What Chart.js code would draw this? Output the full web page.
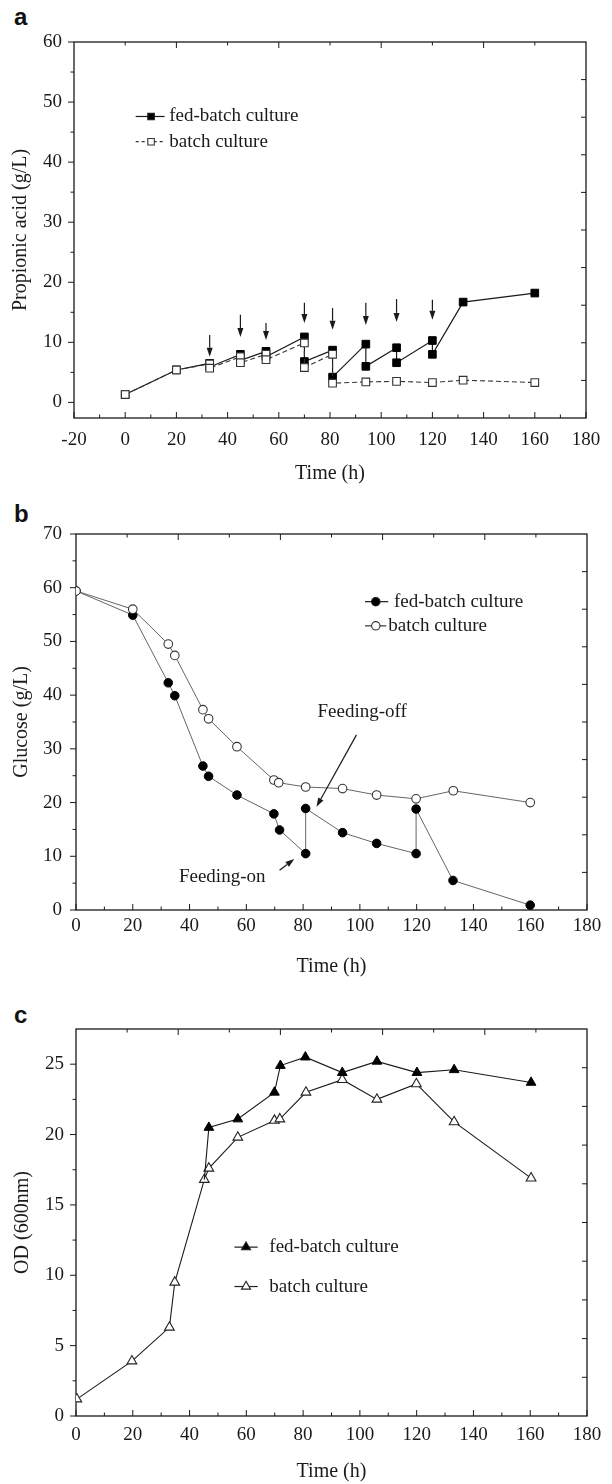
<!DOCTYPE html>
<html>
<head>
<meta charset="utf-8">
<script src="https://cdn.jsdelivr.net/npm/chart.js@4.4.1/dist/chart.umd.min.js"></script>
<style>
html,body{margin:0;padding:0;background:#fff;}
#wrap{position:relative;width:612px;height:1484px;overflow:hidden;background:#fff;}
canvas{position:absolute;left:0;}
.plbl{position:absolute;font-family:'Liberation Sans',Arial,sans-serif;font-weight:bold;font-size:24px;line-height:24px;color:#111;}
</style>
</head>
<body>
<div id="wrap">
  <div class="plbl" style="left:14px;top:5px">a</div>
  <div class="plbl" style="left:14px;top:502px">b</div>
  <div class="plbl" style="left:14px;top:1003px">c</div>
  <canvas id="cA" width="612" height="490" style="top:0px"></canvas>
  <canvas id="cB" width="612" height="490" style="top:490px"></canvas>
  <canvas id="cC" width="612" height="504" style="top:980px"></canvas>
</div>
<script>
// ---------------- DATA ----------------
// Panel a: propionic acid (g/L)
const timeA_fed   = [0, 20, 33, 33, 45, 45, 55, 55, 70, 70, 81, 81, 94, 94, 106, 106, 120, 120, 132, 160];
const propA_fed   = [1.3, 5.4, 6.5, 5.9, 8.0, 7.0, 8.5, 7.6, 10.9, 6.8, 8.7, 4.2, 9.7, 6.0, 9.1, 6.6, 10.3, 8.0, 16.7, 18.2];
const timeA_batch = [0, 20, 33, 33, 45, 45, 55, 55, 70, 70, 81, 81, 94, 106, 120, 132, 160];
const propA_batch = [1.3, 5.4, 6.4, 5.7, 7.6, 6.6, 8.0, 7.1, 9.9, 5.8, 8.0, 3.2, 3.4, 3.5, 3.3, 3.7, 3.3];
const feedTimesA  = [33, 45, 55, 70, 81, 94, 106, 120];
const arrowTailA  = [11.2, 14.6, 13.2, 16.6, 15.7, 16.6, 17.2, 17.1];
const arrowTipA   = [7.6, 10.9, 10.4, 13.2, 12.1, 12.9, 13.4, 13.75];
const xTicksA = [-20, 0, 20, 40, 60, 80, 100, 120, 140, 160, 180];
const yTicksA = [0, 10, 20, 30, 40, 50, 60];

// Panel b: glucose (g/L)
const timeB_fed   = [0, 20, 32.5, 34.8, 44.7, 46.7, 56.7, 69.7, 71.7, 80.9, 80.9, 93.9, 105.9, 119.8, 119.8, 132.8, 160];
const glucB_fed   = [59.4, 54.9, 42.3, 39.9, 26.8, 24.9, 21.4, 17.9, 14.9, 10.5, 18.9, 14.4, 12.4, 10.5, 18.8, 5.5, 0.9];
const timeB_batch = [0, 20, 32.5, 34.8, 44.7, 46.7, 56.7, 69.7, 71.4, 80.9, 93.9, 105.9, 119.8, 132.9, 160];
const glucB_batch = [59.4, 56.0, 49.5, 47.4, 37.3, 35.6, 30.4, 24.2, 23.7, 22.9, 22.6, 21.4, 20.7, 22.2, 20.0];
const xTicksB = [0, 20, 40, 60, 80, 100, 120, 140, 160, 180];
const yTicksB = [0, 10, 20, 30, 40, 50, 60, 70];

// Panel c: OD (600nm)
const timeC_fed   = [45.2, 46.8, 57, 69.9, 72, 80.8, 93.8, 106, 120.1, 133.2, 160.3];
const odC_fed     = [16.8, 20.5, 21.1, 23.0, 24.9, 25.5, 24.4, 25.2, 24.4, 24.6, 23.7];
const timeC_batch = [0.3, 19.7, 32.9, 34.8, 45.2, 46.8, 57, 69.9, 71.8, 81, 93.8, 106, 119.9, 133.2, 160.3];
const odC_batch   = [1.2, 3.9, 6.3, 9.5, 16.8, 17.6, 19.8, 21.0, 21.1, 23.0, 23.9, 22.5, 23.6, 20.9, 16.9];
const xTicksC = [0, 20, 40, 60, 80, 100, 120, 140, 160, 180];
const yTicksC = [0, 5, 10, 15, 20, 25];

// ---------------- STYLE / HELPERS ----------------
const SERIF = "'Liberation Serif','Times New Roman',Times,serif";
const INK = '#1a1a1a';
const pts = (xs, ys) => xs.map((x, i) => ({x: x, y: ys[i]}));
const mids = arr => arr.slice(1).map((v, i) => (v + arr[i]) / 2);

function arrow(ctx, x1, y1, x2, y2, headLen, headW) {
  const ang = Math.atan2(y2 - y1, x2 - x1);
  const bx = x2 - Math.cos(ang) * headLen, by = y2 - Math.sin(ang) * headLen;
  ctx.beginPath(); ctx.moveTo(x1, y1); ctx.lineTo(bx, by); ctx.stroke();
  ctx.beginPath();
  ctx.moveTo(x2, y2);
  ctx.lineTo(bx + Math.sin(ang) * headW, by - Math.cos(ang) * headW);
  ctx.lineTo(bx - Math.sin(ang) * headW, by + Math.cos(ang) * headW);
  ctx.closePath(); ctx.fill();
}

const decoPlugin = {
  id: 'deco',
  beforeDatasetsDraw(chart, args, o) {
    const {ctx, chartArea: a} = chart;
    const xs = chart.scales.x, ys = chart.scales.y;
    ctx.save();
    ctx.strokeStyle = INK;
    ctx.lineWidth = 1.3;
    ctx.strokeRect(a.left, a.top, a.right - a.left, a.bottom - a.top);
    ctx.lineWidth = 1;
    ctx.beginPath();
    const seg = (x1, y1, x2, y2) => { ctx.moveTo(x1, y1); ctx.lineTo(x2, y2); };
    // bottom (inward)
    o.xMajor.forEach(v => { const p = xs.getPixelForValue(v); seg(p, a.bottom, p, a.bottom - 6); });
    mids(o.xMajor).forEach(v => { const p = xs.getPixelForValue(v); seg(p, a.bottom, p, a.bottom - 3.5); });
    // left (outward)
    o.yMajor.forEach(v => { const p = ys.getPixelForValue(v); seg(a.left, p, a.left - 6, p); });
    mids(o.yMajor).forEach(v => { const p = ys.getPixelForValue(v); seg(a.left, p, a.left - 3.5, p); });
    // right & top: ten equal divisions (inward)
    for (let k = 1; k < 10; k++) {
      const vy = ys.min + k * (ys.max - ys.min) / 10;
      const py = ys.getPixelForValue(vy);
      seg(a.right, py, a.right - 5, py);
      const vx = xs.min + k * (xs.max - xs.min) / 10;
      const px = xs.getPixelForValue(vx);
      seg(px, a.top, px, a.top + (k % 2 === 0 ? 6 : 3.5));
    }
    ctx.stroke();
    ctx.restore();
  },
  afterDatasetsDraw(chart, args, o) {
    const {ctx} = chart;
    const xs = chart.scales.x, ys = chart.scales.y;
    const X = v => xs.getPixelForValue(v), Y = v => ys.getPixelForValue(v);
    ctx.save();
    ctx.strokeStyle = INK; ctx.fillStyle = INK; ctx.lineWidth = 1.2;
    (o.arrows || []).forEach(ar => arrow(ctx, X(ar.x1), Y(ar.y1), X(ar.x2), Y(ar.y2), 9, 3));
    ctx.font = '19px ' + SERIF;
    ctx.textBaseline = 'middle';
    ctx.textAlign = 'center';
    (o.notes || []).forEach(n => { ctx.fillStyle = INK; ctx.fillText(n.text, X(n.x), Y(n.y)); });
    // legend
    (o.legend || []).forEach(r => {
      const py = Y(r.y);
      ctx.save();
      ctx.strokeStyle = r.color; ctx.lineWidth = 1.2;
      ctx.setLineDash(r.dash);
      ctx.beginPath(); ctx.moveTo(X(r.x1), py); ctx.lineTo(X(r.x2), py); ctx.stroke();
      ctx.setLineDash([]);
      ctx.fillStyle = r.fill; ctx.strokeStyle = r.color; ctx.lineWidth = 1.1;
      Chart.helpers.drawPoint(ctx, {pointStyle: r.style, radius: r.radius, rotation: 0, borderWidth: 1.1}, X(r.xm), py);
      ctx.restore();
      ctx.fillStyle = INK; ctx.textAlign = 'left';
      ctx.fillText(r.label, X(r.xt), py);
    });
    ctx.restore();
  }
};

function makeChart(id, c) {
  return new Chart(document.getElementById(id), {
    type: 'line',
    data: {datasets: c.datasets},
    options: {
      responsive: false, animation: false, devicePixelRatio: 1,
      layout: {padding: c.pad},
      plugins: {legend: {display: false}, tooltip: {enabled: false}, deco: c.deco},
      elements: {line: {tension: 0}},
      scales: {
        x: {
          type: 'linear', min: c.xMin, max: c.xMax,
          afterBuildTicks: s => { s.ticks = c.xTicks.map(v => ({value: v})); },
          afterFit: s => { s.height = c.xH; },
          grid: {display: false, drawTicks: false}, border: {display: false},
          ticks: {font: {family: SERIF, size: 19}, color: INK, padding: c.xPad, maxRotation: 0, autoSkip: false},
          title: {display: true, text: c.xTitle, font: {family: SERIF, size: 20}, color: INK, padding: {top: 0, bottom: 0}}
        },
        y: {
          type: 'linear', min: c.yMin, max: c.yMax,
          afterBuildTicks: s => { s.ticks = c.yTicks.map(v => ({value: v})); },
          afterFit: s => { s.width = c.yW; },
          grid: {display: false, drawTicks: false}, border: {display: false},
          ticks: {font: {family: SERIF, size: 19}, color: INK, padding: c.yPad, autoSkip: false},
          title: {display: true, text: c.yTitle, font: {family: SERIF, size: 20}, color: INK, padding: {top: c.yTitlePad, bottom: 0}}
        }
      }
    },
    plugins: [decoPlugin]
  });
}

// ---------------- PANEL a ----------------
makeChart('cA', {
  pad: {left: 0, top: 42, right: 26, bottom: 4},
  xMin: -20, xMax: 180, yMin: -2.6, yMax: 60,
  xTicks: xTicksA, yTicks: yTicksA, xH: 68, yW: 74, xPad: 10.6, yPad: 12, yTitlePad: 9,
  xTitle: 'Time (h)', yTitle: 'Propionic acid (g/L)',
  datasets: [
    {label: 'fed-batch culture', data: pts(timeA_fed, propA_fed), order: 1,
     borderColor: INK, borderWidth: 1.2, pointStyle: 'rect', pointRadius: 5.4,
     pointBackgroundColor: '#000', pointBorderColor: '#000', pointBorderWidth: 1},
    {label: 'batch culture', data: pts(timeA_batch, propA_batch), order: 0,
     borderColor: '#333', borderWidth: 1.1, borderDash: [5, 3], pointStyle: 'rect', pointRadius: 5.4,
     pointBackgroundColor: '#fff', pointBorderColor: '#333', pointBorderWidth: 1.1}
  ],
  deco: {
    xMajor: xTicksA, yMajor: yTicksA,
    arrows: feedTimesA.map((t, i) => ({x1: t, y1: arrowTailA[i], x2: t, y2: arrowTipA[i]})),
    legend: [
      {label: 'fed-batch culture', y: 47.6, x1: 4.1, x2: 15.4, xm: 10.1, xt: 17.2, style: 'rect', radius: 4.6, fill: '#000', color: INK, dash: []},
      {label: 'batch culture', y: 43.4, x1: 4.1, x2: 15.4, xm: 10.1, xt: 17.2, style: 'rect', radius: 4.6, fill: '#fff', color: '#333', dash: [3, 3]}
    ]
  }
});

// ---------------- PANEL b ----------------
makeChart('cB', {
  pad: {left: 0, top: 44, right: 25, bottom: 1},
  xMin: 0, xMax: 180, yMin: 0, yMax: 70,
  xTicks: xTicksB, yTicks: yTicksB, xH: 69, yW: 76, xPad: 4.6, yPad: 14, yTitlePad: 10,
  xTitle: 'Time (h)', yTitle: 'Glucose (g/L)',
  datasets: [
    {label: 'fed-batch culture', data: pts(timeB_fed, glucB_fed), order: 1,
     borderColor: '#555', borderWidth: 0.9, pointStyle: 'circle', pointRadius: 4.3,
     pointBackgroundColor: '#000', pointBorderColor: '#000', pointBorderWidth: 1},
    {label: 'batch culture', data: pts(timeB_batch, glucB_batch), order: 0,
     borderColor: '#555', borderWidth: 0.9, pointStyle: 'circle', pointRadius: 4.3,
     pointBackgroundColor: '#fff', pointBorderColor: '#333', pointBorderWidth: 1.1}
  ],
  deco: {
    xMajor: xTicksB, yMajor: yTicksB,
    arrows: [{x1: 98.8, y1: 32.6, x2: 84.7, y2: 19.2}, {x1: 71.7, y1: 7.4, x2: 76.9, y2: 9.5}],
    notes: [{text: 'Feeding-off', x: 100.8, y: 36.9}, {text: 'Feeding-on', x: 51.5, y: 6.2}],
    legend: [
      {label: 'fed-batch culture', y: 57.4, x1: 101.8, x2: 110, xm: 105.6, xt: 112, style: 'circle', radius: 4.2, fill: '#000', color: INK, dash: []},
      {label: 'batch culture', y: 52.9, x1: 101.8, x2: 109.3, xm: 105.6, xt: 110, style: 'circle', radius: 4.2, fill: '#fff', color: '#333', dash: []}
    ]
  }
});

// ---------------- PANEL c ----------------
makeChart('cC', {
  pad: {left: 0, top: 49, right: 25, bottom: 0},
  xMin: 0, xMax: 180, yMin: 0, yMax: 27.5,
  xTicks: xTicksC, yTicks: yTicksC, xH: 68, yW: 76, xPad: 7.6, yPad: 12, yTitlePad: 11,
  xTitle: 'Time (h)', yTitle: 'OD (600nm)',
  datasets: [
    {label: 'fed-batch culture', data: pts(timeC_fed, odC_fed), order: 0,
     borderColor: INK, borderWidth: 1.1, pointStyle: 'triangle',
     pointRadius: ctx => (ctx.dataIndex === 0 ? 0 : 5.6),
     pointBackgroundColor: '#000', pointBorderColor: '#000', pointBorderWidth: 1},
    {label: 'batch culture', data: pts(timeC_batch, odC_batch), order: 1,
     borderColor: INK, borderWidth: 1.1, pointStyle: 'triangle', pointRadius: 5.6,
     pointBackgroundColor: '#fff', pointBorderColor: '#222', pointBorderWidth: 1.1}
  ],
  deco: {
    xMajor: xTicksC, yMajor: yTicksC,
    legend: [
      {label: 'fed-batch culture', y: 12.0, x1: 55.8, x2: 64, xm: 59.9, xt: 68.1, style: 'triangle', radius: 5.2, fill: '#000', color: INK, dash: []},
      {label: 'batch culture', y: 9.2, x1: 55.8, x2: 64, xm: 59.9, xt: 68.1, style: 'triangle', radius: 5.2, fill: '#fff', color: '#222', dash: []}
    ]
  }
});
</script>
</body>
</html>
